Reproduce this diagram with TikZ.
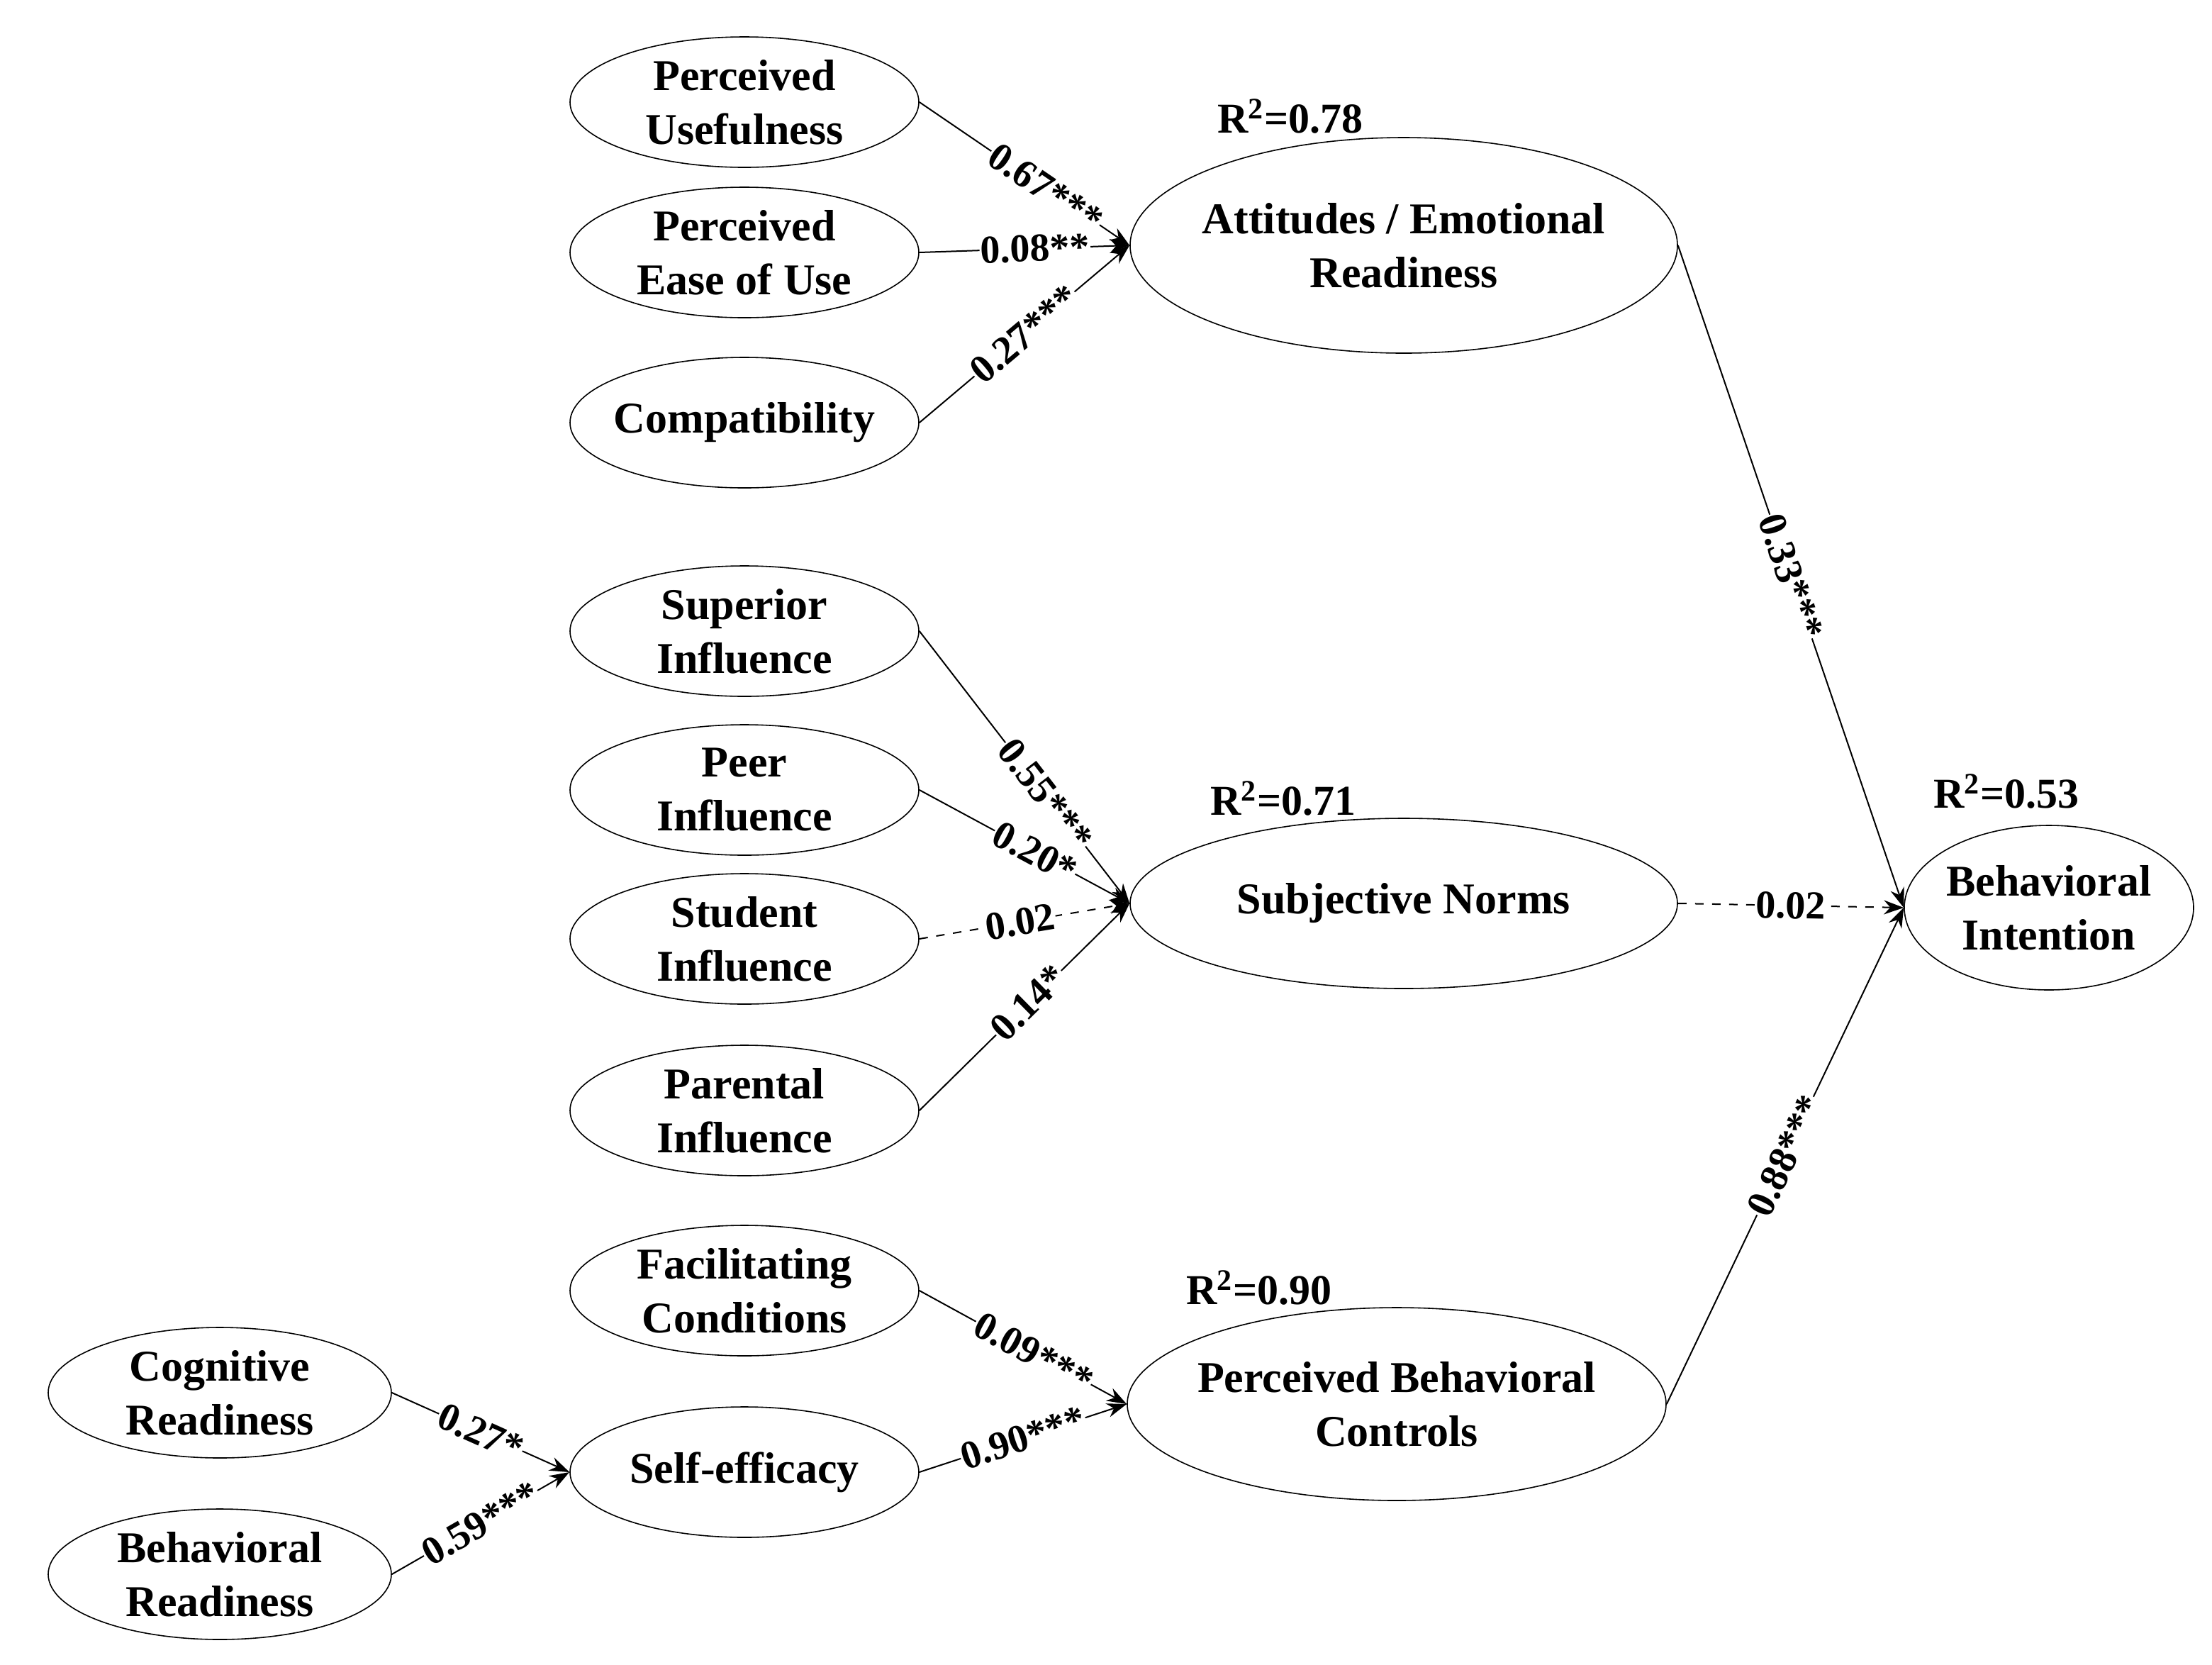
\documentclass[tikz,border=0pt]{standalone}
\usepackage{fontspec}
\setmainfont{Liberation Serif}
\usetikzlibrary{arrows.meta,shapes.geometric}
\begin{document}
\begin{tikzpicture}[x=0.5pt,y=-0.5pt,
 lat/.style={draw,ellipse,minimum width=246*0.5pt,minimum height=92*0.5pt,inner xsep=-8pt,inner ysep=-3pt,align=center,font=\fontsize{15.5}{19}\selectfont\bfseries},
 big/.style={lat,minimum width=386*0.5pt,minimum height=140*0.5pt},
 pth/.style={-{Stealth[length=7pt,width=5pt]},line width=0.5pt},
 lb/.style={sloped,fill=white,inner sep=0.3pt,font=\fontsize{14}{16}\selectfont\bfseries},
 r2/.style={font=\fontsize{15}{17}\selectfont\bfseries}]
\useasboundingbox (0,0) rectangle (1560,1174);
\node[lat] (pu) at (525,72) {Perceived\\Usefulness};
\node[lat] (pe) at (525,178) {Perceived\\Ease of Use};
\node[lat] (co) at (525,298) {Compatibility};
\node[big,minimum height=152*0.5pt] (at) at (990,173) {Attitudes / Emotional\\Readiness};
\node[lat] (si) at (525,445) {Superior\\Influence};
\node[lat] (pi) at (525,557) {Peer\\Influence};
\node[lat] (st) at (525,662) {Student\\Influence};
\node[lat] (pa) at (525,783) {Parental\\Influence};
\node[big,minimum height=120*0.5pt] (sn) at (990,637) {Subjective Norms};
\node[lat,minimum width=204*0.5pt,minimum height=116*0.5pt] (bi) at (1445,640) {Behavioral\\Intention};
\node[lat] (fc) at (525,910) {Facilitating\\Conditions};
\node[lat] (se) at (525,1038) {Self-efficacy};
\node[big,minimum width=380*0.5pt,minimum height=136*0.5pt] (pb) at (985,990) {Perceived Behavioral\\Controls};
\node[lat,minimum width=242*0.5pt] (cr) at (155,982) {Cognitive\\Readiness};
\node[lat,minimum width=242*0.5pt] (br) at (155,1110) {Behavioral\\Readiness};
\node[r2] (r1) at (910,82) {R\textsuperscript{2}=0.78};
\node[r2] (r2a) at (905,563) {R\textsuperscript{2}=0.71};
\node[r2] (r3) at (1415,558) {R\textsuperscript{2}=0.53};
\node[r2] (r4) at (888,908) {R\textsuperscript{2}=0.90};
\draw[pth] (pu.east) -- node[lb,pos=0.6]{0.67***} (at.west);
\draw[pth] (pe.east) -- node[lb,pos=0.55]{0.08**} (at.west);
\draw[pth] (co.east) -- node[lb,pos=0.5]{0.27***} (at.west);
\draw[pth] (si.east) -- node[lb,pos=0.6]{0.55***} (sn.west);
\draw[pth] (pi.east) -- node[lb,pos=0.55]{0.20*} (sn.west);
\draw[pth,dashed] (st.east) -- node[lb,pos=0.48]{0.02} (sn.west);
\draw[pth] (pa.east) -- node[lb,pos=0.52]{0.14*} (sn.west);
\draw[pth] (at.east) -- node[lb,pos=0.5]{0.33***} (bi.west);
\draw[pth,dashed] (sn.east) -- node[lb,pos=0.5]{0.02} (bi.west);
\draw[pth] (pb.east) -- node[lb,pos=0.5]{0.88***} (bi.west);
\draw[pth] (fc.east) -- node[lb,pos=0.55]{0.09***} (pb.west);
\draw[pth] (se.east) -- node[lb,pos=0.5]{0.90***} (pb.west);
\draw[pth] (cr.east) -- node[lb,pos=0.5]{0.27*} (se.west);
\draw[pth] (br.east) -- node[lb,pos=0.5]{0.59***} (se.west);
\end{tikzpicture}
\end{document}
